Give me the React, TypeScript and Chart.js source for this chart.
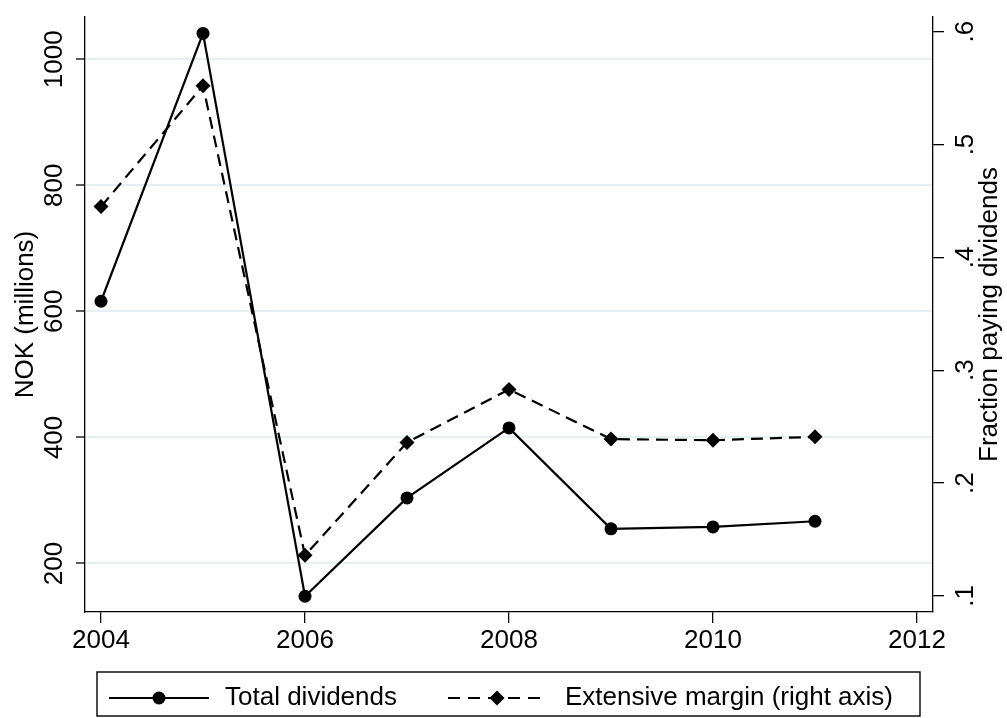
import React, { useEffect, useRef } from "react";
import { Chart, registerables } from "chart.js";

Chart.register(...registerables);

// ---- data ----
const years = [2004, 2005, 2006, 2007, 2008, 2009, 2010, 2011];
const totalDividends = [616, 1041, 148, 304, 415, 255, 258, 267];
const extensiveMargin = [0.445, 0.552, 0.136, 0.236, 0.283, 0.239, 0.238, 0.241];
const xTicks = [2004, 2006, 2008, 2010, 2012];
const leftTicks = [200, 400, 600, 800, 1000];
const leftTickLabels = ["200", "400", "600", "800", "1000"];
const rightTicks = [0.1, 0.2, 0.3, 0.4, 0.5, 0.6];
const rightTickLabels = [".1", ".2", ".3", ".4", ".5", ".6"];
const seriesLabels = ["Total dividends", "Extensive margin (right axis)"];
const leftTitle = "NOK (millions)";
const rightTitle = "Fraction paying dividends";

const FAMILY = '"Liberation Sans", Arial, Helvetica, sans-serif';
const FONT = `26px ${FAMILY}`;
const W = 1007;
const H = 718;

const stataPlugin = {
  id: "stataDecor",
  afterDraw(chart: any) {
    const ctx: CanvasRenderingContext2D = chart.ctx;
    const yL = chart.scales.y;
    const yR = chart.scales.y1;
    const area = chart.chartArea;
    ctx.save();
    ctx.fillStyle = "#000";
    ctx.strokeStyle = "#000";
    ctx.font = FONT;
    ctx.textAlign = "center";
    ctx.textBaseline = "alphabetic";
    const rot = (x: number, y: number, t: string) => {
      ctx.save();
      ctx.translate(x, y);
      ctx.rotate(-Math.PI / 2);
      ctx.fillText(t, 0, 0);
      ctx.restore();
    };
    leftTicks.forEach((v, i) => rot(area.left - 23, yL.getPixelForValue(v), leftTickLabels[i]));
    rightTicks.forEach((v, i) => rot(area.right + 40, yR.getPixelForValue(v), rightTickLabels[i]));
    const midY = (area.top + area.bottom) / 2;
    rot(area.left - 52, midY, leftTitle);
    rot(area.right + 64, midY, rightTitle);

    // legend
    const bx = area.left + 12;
    const bw = area.right - 13 - bx;
    const by = area.bottom + 60;
    const bh = 44;
    ctx.lineWidth = 1.4;
    ctx.strokeRect(bx, by, bw, bh);
    const ly = by + bh / 2 + 4;
    ctx.lineWidth = 2.2;
    // item 1
    ctx.beginPath();
    ctx.moveTo(bx + 12, ly);
    ctx.lineTo(bx + 112, ly);
    ctx.stroke();
    ctx.beginPath();
    ctx.arc(bx + 62, ly, 6.5, 0, Math.PI * 2);
    ctx.fill();
    ctx.textAlign = "left";
    ctx.textBaseline = "middle";
    ctx.fillText(seriesLabels[0], bx + 128, ly);
    // item 2
    ctx.setLineDash([12, 8]);
    ctx.beginPath();
    ctx.moveTo(bx + 351, ly);
    ctx.lineTo(bx + 450, ly);
    ctx.stroke();
    ctx.setLineDash([]);
    const dx = bx + 400;
    ctx.beginPath();
    ctx.moveTo(dx, ly - 7.5);
    ctx.lineTo(dx + 7.5, ly);
    ctx.lineTo(dx, ly + 7.5);
    ctx.lineTo(dx - 7.5, ly);
    ctx.closePath();
    ctx.fill();
    ctx.fillText(seriesLabels[1], bx + 468, ly);
    ctx.restore();
  },
};

export default function App() {
  const ref = useRef<HTMLCanvasElement | null>(null);
  useEffect(() => {
    const canvas = ref.current;
    if (!canvas) return;
    const chart = new Chart(canvas, {
      type: "line",
      data: {
        datasets: [
          {
            label: seriesLabels[0],
            data: years.map((x, i) => ({ x, y: totalDividends[i] })),
            yAxisID: "y",
            borderColor: "#000",
            backgroundColor: "#000",
            borderWidth: 2.2,
            pointStyle: "circle",
            pointRadius: 6.5,
            pointBorderWidth: 0,
            tension: 0,
          },
          {
            label: seriesLabels[1],
            data: years.map((x, i) => ({ x, y: extensiveMargin[i] })),
            yAxisID: "y1",
            borderColor: "#000",
            backgroundColor: "#000",
            borderWidth: 2.2,
            borderDash: [12, 7],
            pointStyle: "rectRot",
            pointRadius: 7.5,
            pointBorderWidth: 0,
            tension: 0,
          },
        ],
      },
      options: {
        responsive: false,
        animation: false,
        events: [],
        layout: { padding: { top: 17, left: 0, right: 0, bottom: 0 } },
        plugins: {
          legend: { display: false },
          tooltip: { enabled: false },
        },
        scales: {
          x: {
            type: "linear",
            position: "bottom",
            min: 2003.843,
            max: 2012.157,
            afterBuildTicks: (s: any) => {
              s.ticks = xTicks.map((v) => ({ value: v }));
            },
            afterFit: (s: any) => {
              s.height = 106;
            },
            grid: { drawOnChartArea: false, tickColor: "#000", tickLength: 11, tickWidth: 1.3, lineWidth: 1.3 },
            border: { color: "#000", width: 1.3 },
            ticks: {
              color: "#000",
              font: { family: FAMILY, size: 26 },
              padding: 2,
              maxRotation: 0,
              autoSkip: false,
              callback: (v: any) => String(v),
            },
          },
          y: {
            type: "linear",
            position: "left",
            min: 123,
            max: 1067,
            afterBuildTicks: (s: any) => {
              s.ticks = leftTicks.map((v) => ({ value: v }));
            },
            afterFit: (s: any) => {
              s.width = 85;
            },
            grid: { color: "#e6eff1", lineWidth: 2, tickColor: "#000", tickLength: 9, tickWidth: 1.3 },
            border: { color: "#000", width: 1.3 },
            ticks: { display: false },
          },
          y1: {
            type: "linear",
            position: "right",
            min: 0.0858,
            max: 0.613,
            afterBuildTicks: (s: any) => {
              s.ticks = rightTicks.map((v) => ({ value: v }));
            },
            afterFit: (s: any) => {
              s.width = W - 933;
            },
            grid: { drawOnChartArea: false, tickColor: "#000", tickLength: 11, tickWidth: 1.3, lineWidth: 1.3 },
            border: { color: "#000", width: 1.3 },
            ticks: { display: false },
          },
        },
      },
      plugins: [stataPlugin],
    } as any);
    return () => chart.destroy();
  }, []);
  return (
    <div style={{ position: "absolute", left: 0, top: 0, width: W, height: H, background: "#fff" }}>
      <canvas ref={ref} width={W} height={H} style={{ display: "block" }} />
    </div>
  );
}
